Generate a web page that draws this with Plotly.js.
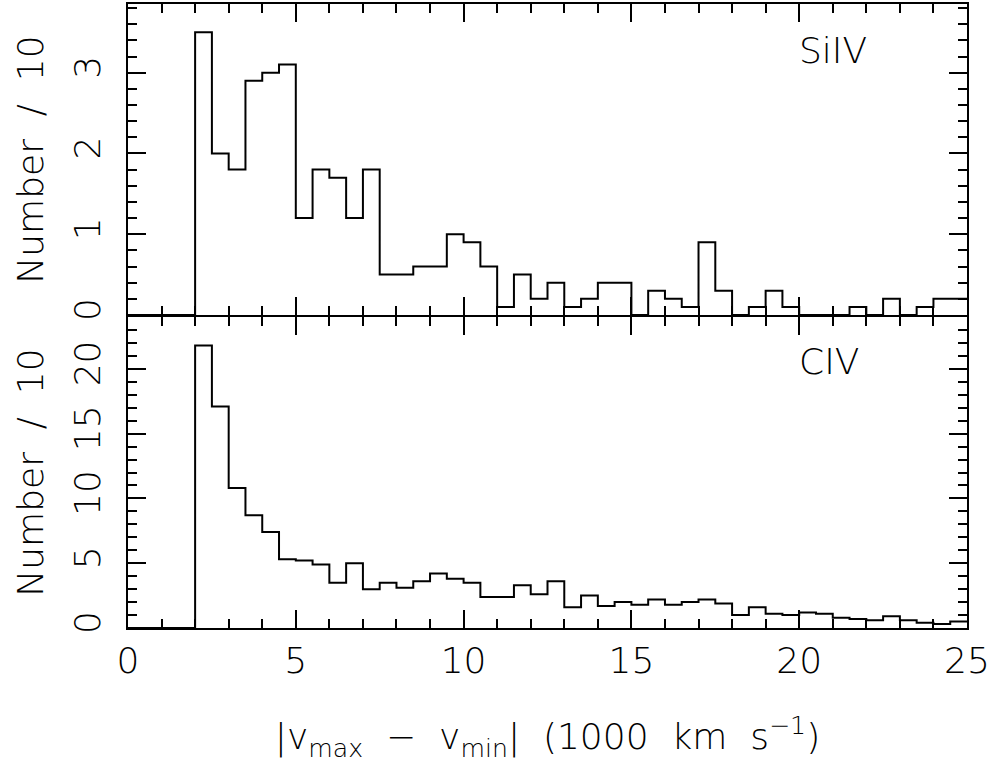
<!DOCTYPE html>
<html>
<head>
<meta charset="utf-8">
<script src="https://cdn.plot.ly/plotly-3.0.1.min.js"></script>
<style>html,body{margin:0;padding:0;background:#fff;}#chart{width:996px;height:777px;}</style>
</head>
<body>
<div id="chart"></div>
<script>
// Bin edges (1000 km/s), bin width 0.5
var binEdges = [0,0.5,1,1.5,2,2.5,3,3.5,4,4.5,5,5.5,6,6.5,7,7.5,8,8.5,9,9.5,10,10.5,11,11.5,12,12.5,13,13.5,14,14.5,15,15.5,16,16.5,17,17.5,18,18.5,19,19.5,20,20.5,21,21.5,22,22.5,23,23.5,24,24.5,25];

// SiIV histogram (Number / 10), one value per bin
var siivCounts = [0,0,0,0,3.5,2.0,1.8,2.9,3.0,3.1,1.2,1.8,1.7,1.2,1.8,0.5,0.5,0.6,0.6,1.0,0.9,0.6,0.1,0.5,0.2,0.4,0.1,0.2,0.4,0.4,0,0.3,0.2,0.1,0.9,0.3,0,0.1,0.3,0.1,0,0,0,0.1,0,0.2,0,0.1,0.2,0.2];

// CIV histogram (Number / 10), one value per bin
var civCounts = [0,0,0,0,21.8,17.1,10.8,8.7,7.4,5.3,5.2,4.9,3.5,5.0,3.0,3.5,3.1,3.6,4.2,3.8,3.5,2.4,2.4,3.3,2.6,3.6,1.6,2.5,1.7,2.0,1.8,2.2,1.8,2.0,2.2,1.9,1.0,1.6,1.1,1.0,1.2,1.1,0.8,0.7,0.6,0.9,0.6,0.4,0.3,0.5];

var panelLabels = ["SiIV", "CIV"];
var xTickVals = [0,5,10,15,20,25];

function stepY(vals){ return vals.concat([vals[vals.length-1]]); }

var FONT = "DejaVu Sans";
var lineStyle = {color:"#000", width:2, shape:"hv"};

var traces = [
  {x: binEdges, y: stepY(siivCounts), xaxis:"x2", yaxis:"y", type:"scatter", mode:"lines", line: lineStyle, hoverinfo:"skip"},
  {x: binEdges, y: stepY(civCounts), xaxis:"x", yaxis:"y2", type:"scatter", mode:"lines", line: lineStyle, hoverinfo:"skip"}
];

var axisCommon = {
  showline:true, linecolor:"#000", linewidth:2, mirror:"ticks",
  ticks:"inside", ticklen:18, tickwidth:2, tickcolor:"#000",
  showgrid:false, zeroline:false,
  tickfont:{family:FONT, size:36, color:"#000", weight:200}
};

function ax(extra){ return Object.assign({}, axisCommon, extra); }

var titleFont = {family:FONT, size:36, color:"#000", weight:200};
var plotH = 777 - 4 - 149;
var gap = 1 / plotH;

var layout = {
  width:996, height:777,
  margin:{l:128, r:29, t:4, b:149},
  paper_bgcolor:"#fff", plot_bgcolor:"#fff",
  showlegend:false,
  font:{family:FONT, color:"#000", weight:200},
  xaxis: ax({anchor:"y2", range:[0,25], tickvals:xTickVals, ticktext:xTickVals.map(String),
    minor:{dtick:1, ticklen:9, tickwidth:2, tickcolor:"#000", ticks:"inside"},
    title:{text:"|v<sub>max</sub>&nbsp;&nbsp;−&nbsp;&nbsp;v<sub>min</sub>|&nbsp;&nbsp;(1000&nbsp;&nbsp;km&nbsp;&nbsp;s<sup>−1</sup>)", font:titleFont, standoff:44}}),
  xaxis2: ax({anchor:"y", matches:"x", range:[0,25], dtick:5, showticklabels:false,
    minor:{dtick:1, ticklen:9, tickwidth:2, tickcolor:"#000", ticks:"inside"}}),
  yaxis: ax({domain:[0.5 + gap, 1], range:[0,3.85], dtick:1, tickangle:-90, ticklabelstandoff:12,
    minor:{dtick:0.2, ticklen:9, tickwidth:2, tickcolor:"#000", ticks:"inside"},
    title:{text:"Number&nbsp;&nbsp;/&nbsp;&nbsp;10", font:titleFont, standoff:12}}),
  yaxis2: ax({domain:[0, 0.5 - gap], range:[0,24], dtick:5, tickangle:-90, ticklabelstandoff:12,
    minor:{dtick:1, ticklen:9, tickwidth:2, tickcolor:"#000", ticks:"inside"},
    title:{text:"Number&nbsp;&nbsp;/&nbsp;&nbsp;10", font:titleFont, standoff:12}}),
  annotations:[
    {text:panelLabels[0], xref:"x2", yref:"y", x:21, y:3.28, showarrow:false, font:titleFont},
    {text:panelLabels[1], xref:"x", yref:"y2", x:20.9, y:20.6, showarrow:false, font:titleFont}
  ]
};

Plotly.newPlot("chart", traces, layout, {staticPlot:true, displayModeBar:false});
</script>
</body>
</html>
